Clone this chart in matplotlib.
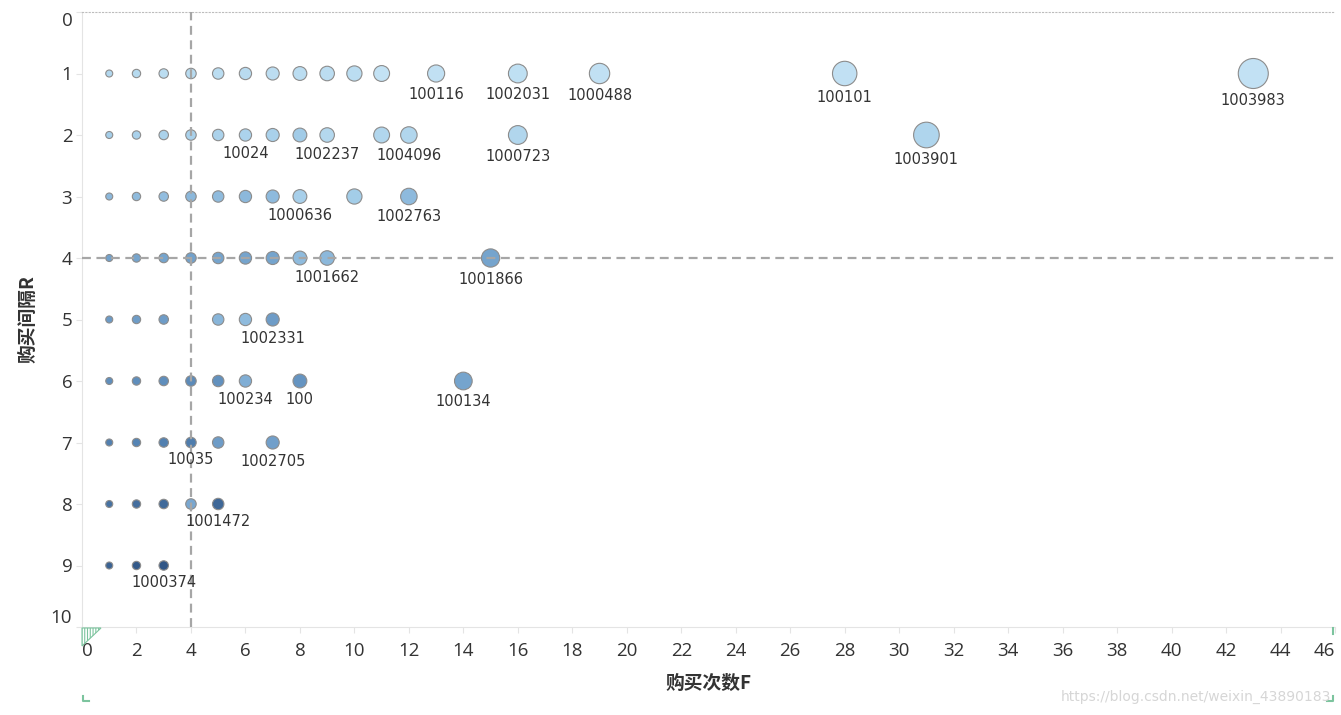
"""RFM bubble chart: purchase count F vs. purchase interval R."""

import matplotlib

matplotlib.use("Agg")
import matplotlib.pyplot as plt
import numpy as np
from matplotlib.colors import LinearSegmentedColormap
from matplotlib.lines import Line2D
from matplotlib.patches import Polygon

plt.rcParams["font.family"] = ["Open Sans", "DejaVu Sans"]
plt.rcParams["hatch.linewidth"] = 0.8

# one entry per row of the chart (purchase interval R)
ROW_R = [1, 2, 3, 4, 5, 6, 7, 8, 9]
ROW_F = [
    [1, 2, 3, 4, 5, 6, 7, 8, 9, 10, 11, 13, 16, 19, 28, 43],
    [1, 2, 3, 4, 5, 6, 7, 8, 9, 11, 12, 16, 31],
    [1, 2, 3, 4, 5, 6, 7, 8, 10, 12],
    [1, 2, 3, 4, 5, 6, 7, 8, 9, 15],
    [1, 2, 3, 5, 6, 7],
    [1, 2, 3, 4, 5, 6, 8, 14],
    [1, 2, 3, 4, 5, 7],
    [1, 2, 3, 4, 5],
    [1, 2, 3],
]
# colour measure per mark (0 = lightest blue, 1 = darkest blue)
ROW_SHADE = [
    [0.16, 0.13, 0.10, 0.12, 0.10, 0.11, 0.09, 0.10, 0.09, 0.10, 0.04, 0.06, 0.07, 0.06, 0.06, 0.05],
    [0.25, 0.22, 0.21, 0.22, 0.21, 0.20, 0.22, 0.27, 0.15, 0.17, 0.17, 0.17, 0.18],
    [0.38, 0.36, 0.35, 0.38, 0.36, 0.38, 0.37, 0.24, 0.26, 0.37],
    [0.52, 0.50, 0.50, 0.52, 0.50, 0.50, 0.50, 0.36, 0.38, 0.50],
    [0.56, 0.55, 0.55, 0.40, 0.36, 0.55],
    [0.64, 0.64, 0.64, 0.66, 0.62, 0.44, 0.60, 0.50],
    [0.72, 0.70, 0.72, 0.74, 0.55, 0.53],
    [0.80, 0.82, 0.84, 0.48, 0.86],
    [0.88, 0.93, 0.95],
]

LABEL_R = [1, 1, 1, 1, 1, 2, 2, 2, 2, 2, 3, 3, 4, 4, 5, 6, 6, 6, 7, 7, 8, 9]
LABEL_F = [13, 16, 19, 28, 43, 6, 9, 12, 16, 31, 8, 12, 9, 15, 7, 6, 8, 14, 4, 7, 5, 3]
LABEL_TEXT = [
    "100116", "1002031", "1000488", "100101", "1003983",
    "10024", "1002237", "1004096", "1000723", "1003901",
    "1000636", "1002763", "1001662", "1001866", "1002331",
    "100234", "100", "100134", "10035", "1002705", "1001472", "1000374",
]

X_TICKS = list(range(0, 47, 2))
Y_TICKS = list(range(0, 11))
REF_F = 4
REF_R = 4

W, H, DPI = 1341, 715, 100
BLUES = LinearSegmentedColormap.from_list(
    "tableau_blue",
    [(0.0, "#c9e6f6"), (0.25, "#a5cee9"), (0.45, "#7eacd4"),
     (0.7, "#5584b4"), (1.0, "#2a4e7e")],
)
TEXT_COLOR = "#333333"
GRID_COLOR = "#e4e4e4"
GREEN = "#7cc49e"


def radius_px(f):
    # bubble area grows linearly with F
    return np.sqrt(7.2 + 5.07 * np.asarray(f, dtype=float))


def main():
    fig = plt.figure(figsize=(W / DPI, H / DPI), dpi=DPI)
    ax = fig.add_axes([82 / W, 1 - 627 / H, (1335 - 82) / W, (627 - 12) / H])

    px2pt = 72 / DPI
    for r, fs, shades in zip(ROW_R, ROW_F, ROW_SHADE):
        rad = radius_px(fs)
        ax.scatter(
            fs, [r] * len(fs),
            s=(2 * rad * px2pt) ** 2,
            c=BLUES(np.asarray(shades)),
            edgecolors="#8c8c8c", linewidths=0.8, zorder=3,
        )

    for r, f, text in zip(LABEL_R, LABEL_F, LABEL_TEXT):
        off = (12 + radius_px(f)) * px2pt
        ax.annotate(
            text, (f, r), xytext=(0, -off), textcoords="offset points",
            ha="center", va="center", fontsize=10.5, color=TEXT_COLOR,
            family="DejaVu Sans", zorder=5,
        )

    ax.axvline(REF_F, color="#a6a6a6", lw=1.6, ls=(0, (4, 2.5)), zorder=4)
    ax.axhline(REF_R, color="#a6a6a6", lw=1.6, ls=(0, (4, 2.5)), zorder=4)

    ax.set_xlim(0, 46)
    ax.set_ylim(10, 0)
    ax.set_xticks(X_TICKS)
    ax.set_yticks(Y_TICKS)
    ax.tick_params(axis="both", colors=GRID_COLOR, labelcolor=TEXT_COLOR,
                   labelsize=13.5, length=4, width=0.8)
    ax.tick_params(axis="x", pad=7)
    ax.tick_params(axis="y", pad=3)
    xl = ax.get_xticklabels()
    xl[0].set_ha("left")
    xl[-1].set_ha("right")
    yl = ax.get_yticklabels()
    yl[0].set_va("top")
    yl[-1].set_va("bottom")

    for side in ("left", "bottom"):
        ax.spines[side].set_color(GRID_COLOR)
        ax.spines[side].set_linewidth(0.8)
    ax.spines["right"].set_visible(False)
    ax.spines["top"].set_color("#bdbdbd")
    ax.spines["top"].set_linestyle((0, (1, 2)))
    ax.spines["top"].set_linewidth(0.8)

    ax.set_xlabel("购买次数F", family=["Noto Sans CJK SC", "DejaVu Sans"],
                  fontweight="bold", fontsize=13.5, color=TEXT_COLOR)
    ax.xaxis.set_label_coords(0.5, -0.076)
    ax.set_ylabel("购买间隔R", family=["Noto Sans CJK SC", "DejaVu Sans"],
                  fontweight="bold", fontsize=13.5, color=TEXT_COLOR)
    ax.yaxis.set_label_coords(-0.036, 0.5)

    # small Tableau corner marks
    def fp(x, y):
        return (x / W, 1 - y / H)

    tri = Polygon([fp(82, 628), fp(101, 628), fp(82, 646)], closed=True,
                  transform=fig.transFigure, facecolor="white", edgecolor=GREEN,
                  hatch="||||||", lw=0.8)
    fig.add_artist(tri)
    for pts in ([(83, 696), (83, 701), (89, 701)],
                [(1333, 696), (1333, 701), (1327, 701)],
                [(1333, 628), (1333, 634)]):
        xs, ys = zip(*[fp(x, y) for x, y in pts])
        fig.add_artist(Line2D(xs, ys, transform=fig.transFigure, color=GREEN, lw=1.5))

    fig.text(1331 / W, 1 - 697 / H, "https://blog.csdn.net/weixin_43890183",
             ha="right", va="center", fontsize=10, color="#d6d6d6",
             family="DejaVu Sans")

    fig.savefig("out.png", dpi=DPI)
    plt.close(fig)


if __name__ == "__main__":
    main()
